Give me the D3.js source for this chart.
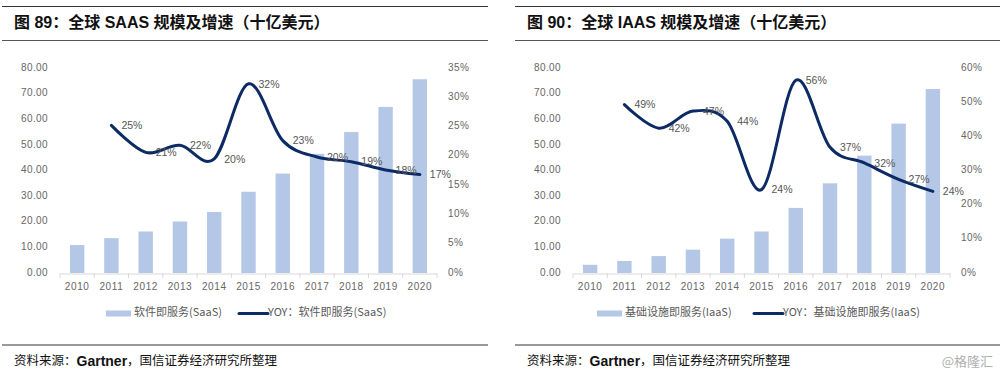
<!DOCTYPE html>
<html>
<head>
<meta charset="utf-8">
<script src="https://cdn.jsdelivr.net/npm/d3@7"></script>
<style>
  html, body { margin: 0; padding: 0; background: #fff; }
  svg { display: block; }
  text { font-family: "Liberation Sans", Arial, "Noto Sans CJK SC", sans-serif; }
</style>
</head>
<body>
<div id="chart"></div>
<script>
const years = ["2010", "2011", "2012", "2013", "2014", "2015", "2016", "2017", "2018", "2019", "2020"]

const saasSize = [10.9, 13.6, 16.2, 20.1, 23.8, 31.7, 38.8, 46.5, 55.0, 64.8, 75.6]
const saasYoy = [null, 25.2, 20.6, 21.8, 19.5, 32.3, 22.6, 19.8, 19.0, 17.6, 16.8]

const iaasSize = [3.2, 4.7, 6.6, 9.1, 13.4, 16.2, 25.4, 35.0, 45.8, 58.3, 71.8]
const iaasYoy = [null, 49.3, 42.4, 47.4, 44.4, 24.4, 56.4, 36.8, 32.2, 27.4, 23.9]

const sizeTicks = [0, 10, 20, 30, 40, 50, 60, 70, 80]
const saasYoyTicks = [0, 5, 10, 15, 20, 25, 30, 35]
const iaasYoyTicks = [0, 10, 20, 30, 40, 50, 60]

const width = 1000
const height = 375
const barColor = "#b4c7e7"
const lineColor = "#0c2a63"
const textColor = "#666"

const svg = d3.select("#chart")
  .append("svg")
  .attr("width", width)
  .attr("height", height)
  .attr("viewBox", [0, 0, width, height])

const panels = [
  {
    x0: 2, x1: 488,
    titleX: 14,
    title: "图 89：全球 SAAS 规模及增速（十亿美元）",
    plotLeft: 60, plotRight: 437,
    size: saasSize, yoy: saasYoy,
    yoyMax: 35, yoyTicks: saasYoyTicks,
    barName: "软件即服务(SaaS)",
    lineName: "YOY：软件即服务(SaaS)",
    legendBarX: 106, legendLineX: 239,
    sourceX: 14
  },
  {
    x0: 515, x1: 1000,
    titleX: 527,
    title: "图 90：全球 IAAS 规模及增速（十亿美元）",
    plotLeft: 573, plotRight: 950,
    size: iaasSize, yoy: iaasYoy,
    yoyMax: 60, yoyTicks: iaasYoyTicks,
    barName: "基础设施即服务(IaaS)",
    lineName: "YOY：基础设施即服务(IaaS)",
    legendBarX: 597, legendLineX: 754,
    sourceX: 527
  }
]

const plotTop = 68
const plotBottom = 273

panels.forEach(drawPanel)

// watermark
svg.append("text")
  .attr("x", 993)
  .attr("y", 362)
  .attr("text-anchor", "end")
  .attr("dominant-baseline", "middle")
  .style("font-family", "'Noto Sans CJK SC', sans-serif")
  .style("font-size", "13px")
  .style("fill", "#b0b0b0")
  .text("@格隆汇")

function drawPanel(p) {
  const g = svg.append("g")

  // header rules
  g.append("line")
    .attr("x1", p.x0).attr("x2", p.x1)
    .attr("y1", 6.5).attr("y2", 6.5)
    .attr("stroke", "#333").attr("stroke-width", 1)

  g.append("line")
    .attr("x1", p.x0).attr("x2", p.x1)
    .attr("y1", 40.5).attr("y2", 40.5)
    .attr("stroke", "#555").attr("stroke-width", 1)

  g.append("text")
    .attr("x", p.titleX)
    .attr("y", 24)
    .attr("dominant-baseline", "middle")
    .style("font-family", "'Liberation Sans', Arial, 'Noto Sans CJK SC', sans-serif")
    .style("font-size", "16px")
    .style("font-weight", "bold")
    .style("fill", "#111")
    .text(p.title)

  // scales
  const x = d3.scaleBand()
    .domain(years)
    .range([p.plotLeft, p.plotRight])
    .paddingInner(0.58)
    .paddingOuter(0.29)

  const xBand = d3.scaleBand()
    .domain(years)
    .range([p.plotLeft, p.plotRight])

  const ySize = d3.scaleLinear()
    .domain([0, 80])
    .range([plotBottom, plotTop])

  const yYoy = d3.scaleLinear()
    .domain([0, p.yoyMax])
    .range([plotBottom, plotTop])

  // bars
  g.append("g")
    .selectAll("rect")
    .data(years)
    .join("rect")
    .attr("x", d => x(d))
    .attr("width", x.bandwidth())
    .attr("y", (d, i) => ySize(p.size[i]))
    .attr("height", (d, i) => ySize(0) - ySize(p.size[i]))
    .attr("fill", barColor)

  // x axis
  const xAxis = g.append("g")
    .attr("transform", `translate(0,${plotBottom + 0.5})`)
    .call(d3.axisBottom(xBand).tickSize(0).tickPadding(9))

  xAxis.select(".domain").attr("stroke", "#d9d9d9")
  xAxis.selectAll(".tick text")
    .style("font-size", "10px")
    .style("letter-spacing", "0.6px")
    .style("fill", textColor)

  // band boundary ticks
  g.append("g")
    .selectAll("line")
    .data(years.concat(["end"]))
    .join("line")
    .attr("x1", (d, i) => p.plotLeft + i * xBand.step())
    .attr("x2", (d, i) => p.plotLeft + i * xBand.step())
    .attr("y1", plotBottom)
    .attr("y2", plotBottom + 5)
    .attr("stroke", "#d9d9d9")

  // left axis labels
  g.append("g")
    .selectAll("text")
    .data(sizeTicks)
    .join("text")
    .attr("x", p.plotLeft - 12)
    .attr("y", d => ySize(d))
    .attr("text-anchor", "end")
    .attr("dominant-baseline", "middle")
    .style("font-size", "10px")
    .style("letter-spacing", "0.4px")
    .style("fill", textColor)
    .text(d => d3.format(".2f")(d))

  // right axis labels
  g.append("g")
    .selectAll("text")
    .data(p.yoyTicks)
    .join("text")
    .attr("x", p.plotRight + 11)
    .attr("y", d => yYoy(d))
    .attr("text-anchor", "start")
    .attr("dominant-baseline", "middle")
    .style("font-size", "10px")
    .style("letter-spacing", "0.4px")
    .style("fill", textColor)
    .text(d => d + "%")

  // yoy line
  const pts = years
    .map((yr, i) => ({ year: yr, value: p.yoy[i] }))
    .filter(d => d.value != null)

  const cx = d => xBand(d.year) + xBand.bandwidth() / 2

  g.append("path")
    .datum(pts)
    .attr("fill", "none")
    .attr("stroke", lineColor)
    .attr("stroke-width", 3)
    .attr("stroke-linejoin", "round")
    .attr("stroke-linecap", "round")
    .attr("d", d3.line()
      .x(cx)
      .y(d => yYoy(d.value))
      .curve(d3.curveCatmullRom.alpha(0)))

  g.append("g")
    .selectAll("text")
    .data(pts)
    .join("text")
    .attr("x", d => cx(d) + 10)
    .attr("y", d => yYoy(d.value) + 1)
    .attr("dominant-baseline", "middle")
    .style("font-size", "10.5px")
    .style("fill", "#555")
    .text(d => Math.round(d.value) + "%")

  // legend
  const legendY = 313.5
  g.append("rect")
    .attr("x", p.legendBarX)
    .attr("y", legendY - 3)
    .attr("width", 25)
    .attr("height", 6)
    .attr("fill", barColor)

  g.append("text")
    .attr("x", p.legendBarX + 28)
    .attr("y", legendY)
    .attr("dominant-baseline", "middle")
    .style("font-family", "'Noto Sans CJK SC', sans-serif")
    .style("font-size", "11px")
    .style("fill", "#595959")
    .text(p.barName)

  g.append("line")
    .attr("x1", p.legendLineX)
    .attr("x2", p.legendLineX + 29)
    .attr("y1", legendY)
    .attr("y2", legendY)
    .attr("stroke", lineColor)
    .attr("stroke-width", 3)
    .attr("stroke-linecap", "round")

  g.append("text")
    .attr("x", p.legendLineX + 29)
    .attr("y", legendY)
    .attr("dominant-baseline", "middle")
    .style("font-family", "'Noto Sans CJK SC', sans-serif")
    .style("font-size", "11px")
    .style("fill", "#595959")
    .text(p.lineName)

  // source
  g.append("line")
    .attr("x1", p.x0).attr("x2", p.x1)
    .attr("y1", 345).attr("y2", 345)
    .attr("stroke", "#999").attr("stroke-width", 2)

  const src = g.append("text")
    .attr("x", p.sourceX)
    .attr("y", 362)
    .attr("dominant-baseline", "middle")
    .style("font-family", "'Noto Sans CJK SC', sans-serif")
    .style("font-size", "12.5px")
    .style("fill", "#111")

  src.append("tspan").text("资料来源：")
  src.append("tspan")
    .style("font-family", "'Liberation Sans', Arial, sans-serif")
    .style("font-weight", "bold")
    .style("font-size", "14px")
    .text("Gartner")
  src.append("tspan").text("，国信证券经济研究所整理")
}
</script>
</body>
</html>
